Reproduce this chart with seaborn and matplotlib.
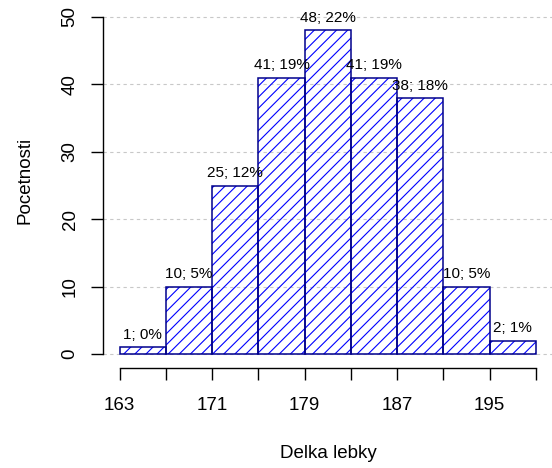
import numpy as np
import matplotlib
matplotlib.use("Agg")
import matplotlib.pyplot as plt
import seaborn as sns

# histogram of skull length
bin_edges = [163, 167, 171, 175, 179, 183, 187, 191, 195, 199]
counts = [1, 10, 25, 41, 48, 41, 38, 10, 2]
x_ticks = [163, 167, 171, 175, 179, 183, 187, 191, 195, 199]
x_tick_labels = ["163", "", "171", "", "179", "", "187", "", "195", ""]
y_ticks = [0, 10, 20, 30, 40, 50]

sns.set_style("white")
plt.rcParams["font.family"] = ["Liberation Sans", "DejaVu Sans"]
plt.rcParams["hatch.linewidth"] = 0.8
plt.rcParams["text.color"] = "black"

W, H = 552, 468
fig = plt.figure(figsize=(W / 100, H / 100), dpi=100)
ax = fig.add_axes([103 / W, 1 - 367.5 / H, (552.6 - 103) / W, (367.5 - 3.5) / H])

mids = [(a + b) / 2 for a, b in zip(bin_edges[:-1], bin_edges[1:])]

# hatch
sns.histplot(x=mids, weights=counts, bins=bin_edges, fill=False, color="#0000FF",
             hatch="///", linewidth=0, alpha=1, ax=ax, zorder=2)
# border
sns.histplot(x=mids, weights=counts, bins=bin_edges, fill=False, color="#00008B",
             linewidth=1.1, alpha=1, ax=ax, zorder=3)

total = sum(counts)
for m, c in zip(mids, counts):
    ax.annotate(f"{c}; {round(100 * c / total)}%", (m, c), xytext=(0, 6),
                textcoords="offset points", ha="center", va="baseline",
                fontsize=11, color="black", zorder=4)

ax.set_xlim(161.56, 200.44)
ax.set_ylim(-2, 52)
ax.set_xticks(x_ticks)
ax.set_xticklabels(x_tick_labels, fontsize=13.5)
ax.set_yticks(y_ticks)
ax.set_yticklabels([str(v) for v in y_ticks], fontsize=13.5, rotation=90, va="center")
ax.tick_params(axis="x", bottom=True, direction="out", length=8.6, width=1.0, pad=12.5,
               colors="black")
ax.tick_params(axis="y", left=True, direction="out", length=8.6, width=1.0, pad=9,
               colors="black")
ax.set_xlabel("")
ax.set_ylabel("")

ax.yaxis.grid(True, color="#C8C8C8", linestyle=(0, (3, 3)), linewidth=0.8, zorder=0)
ax.set_axisbelow(True)

sns.despine(ax=ax, top=True, right=True)
for s in ["left", "bottom"]:
    ax.spines[s].set_linewidth(1.0)
    ax.spines[s].set_color("black")
ax.spines["left"].set_bounds(0, 50)
ax.spines["bottom"].set_bounds(163, 199)
ax.set_facecolor("none")

fig.text(25 / W, 1 - 180 / H, "Pocetnosti", rotation=90, ha="center", va="center",
         fontsize=13.5, color="black")
fig.text(328 / W, 1 - 458 / H, "Delka lebky", ha="center", va="baseline",
         fontsize=13.5, color="black")

fig.savefig("out.png", dpi=100)
